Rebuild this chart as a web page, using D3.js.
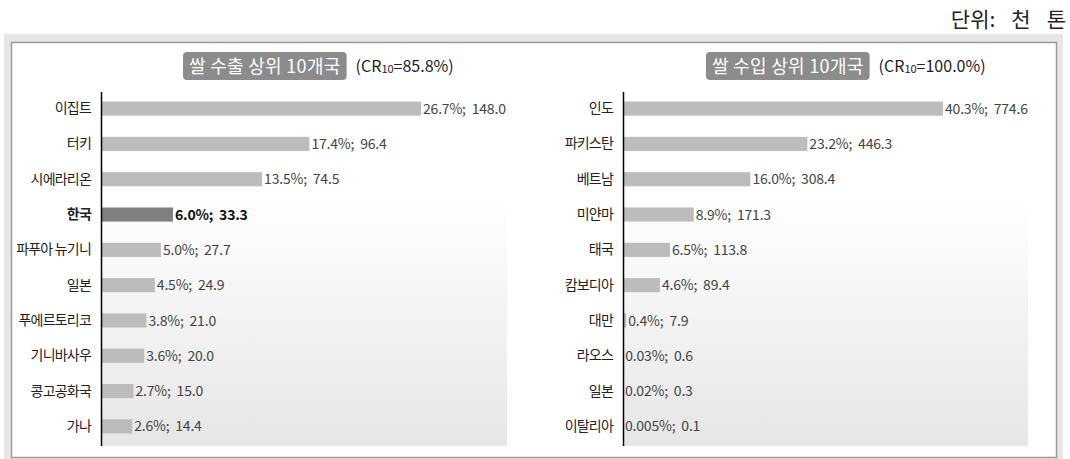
<!DOCTYPE html>
<html>
<head>
<meta charset="utf-8">
<script src="https://cdn.jsdelivr.net/npm/d3@7"></script>
<style>
  html, body { margin: 0; padding: 0; background: #fff; }
  svg { display: block; font-family: "Noto Sans CJK KR", "Noto Sans", sans-serif; }
</style>
</head>
<body>
<svg id="chart" width="1070" height="459"></svg>
<script>
// Rice exports: top 10 countries (thousand tonnes, share %)
const exportCountries = ["이집트", "터키", "시에라리온", "한국", "파푸아 뉴기니", "일본", "푸에르토리코", "기니바사우", "콩고공화국", "가나"];
const exportShares = [26.7, 17.4, 13.5, 6.0, 5.0, 4.5, 3.8, 3.6, 2.7, 2.6];
const exportValues = [148.0, 96.4, 74.5, 33.3, 27.7, 24.9, 21.0, 20.0, 15.0, 14.4];

// Rice imports: top 10 countries (thousand tonnes, share %)
const importCountries = ["인도", "파키스탄", "베트남", "미얀마", "태국", "캄보디아", "대만", "라오스", "일본", "이탈리아"];
const importShares = [40.3, 23.2, 16.0, 8.9, 6.5, 4.6, 0.4, 0.03, 0.02, 0.005];
const importValues = [774.6, 446.3, 308.4, 171.3, 113.8, 89.4, 7.9, 0.6, 0.3, 0.1];

const highlight = "한국";

const svg = d3.select("#chart");

// gradient used behind each bar area
const defs = svg.append("defs");
const grad = defs.append("linearGradient")
  .attr("id", "plotBg").attr("x1", 0).attr("y1", 0).attr("x2", 0).attr("y2", 1);
grad.append("stop").attr("offset", "0%").attr("stop-color", "#ffffff");
grad.append("stop").attr("offset", "30%").attr("stop-color", "#ffffff");
grad.append("stop").attr("offset", "60%").attr("stop-color", "#f4f4f4");
grad.append("stop").attr("offset", "100%").attr("stop-color", "#e6e6e6");

// frame
svg.append("rect").attr("x", 4).attr("y", 34).attr("width", 1059).attr("height", 430).attr("fill", "#e6e6e6");
svg.append("rect").attr("x", 11.5).attr("y", 42.5).attr("width", 1045).attr("height", 415)
  .attr("fill", "#fff").attr("stroke", "#9a9a9a").attr("stroke-width", 1.5);

// unit label
const unit = svg.append("text").attr("x", 1066).attr("y", 27).attr("text-anchor", "end")
  .attr("font-size", 21).attr("fill", "#222");
unit.append("tspan").text("단위:");
unit.append("tspan").attr("dx", 16).text("천");
unit.append("tspan").attr("dx", 16).text("톤");

function fmtShare(v) {
  return (v >= 0.1 ? v.toFixed(1) : String(v)) + "%";
}

function panel(opts) {
  const { left, right, top, bottom, countries, shares, values, title, cr, titleX } = opts;
  const g = svg.append("g");

  g.append("rect").attr("x", left).attr("y", top).attr("width", right - left).attr("height", bottom - top)
    .attr("fill", "url(#plotBg)");

  const x = d3.scaleLinear().domain([0, d3.max(values)]).range([left, left + 320]);
  const y = d3.scaleBand().domain(countries).range([top, bottom - 3]).paddingInner(0.6).paddingOuter(0.27);

  const data = countries.map((c, i) => ({ c, s: shares[i], v: values[i] }));

  g.selectAll("rect.bar").data(data).join("rect")
    .attr("class", "bar")
    .attr("x", x(0))
    .attr("y", d => y(d.c))
    .attr("width", d => x(d.v) - x(0))
    .attr("height", y.bandwidth())
    .attr("fill", d => d.c === highlight ? "#808080" : "#bcbcbc");

  g.selectAll("text.val").data(data).join("text")
    .attr("class", "val")
    .attr("x", d => x(d.v) + 2)
    .attr("y", d => y(d.c) + y.bandwidth() / 2)
    .attr("dy", "0.36em")
    .attr("font-size", 14)
    .attr("font-weight", d => d.c === highlight ? "bold" : "normal")
    .attr("fill", d => d.c === highlight ? "#111" : "#444")
    .attr("letter-spacing", -0.2)
    .attr("word-spacing", 3)
    .text(d => fmtShare(d.s) + "; " + d.v.toFixed(1));

  const axis = g.append("g").attr("transform", `translate(${left},0)`)
    .call(d3.axisLeft(y).tickSize(0).tickPadding(10));
  axis.select(".domain").remove();
  axis.selectAll("text")
    .attr("font-size", 14)
    .attr("font-family", "'Noto Sans CJK KR', sans-serif")
    .attr("fill", "#222")
    .attr("letter-spacing", -0.8)
    .attr("font-weight", d => d === highlight ? "bold" : "normal");

  g.append("line").attr("x1", left + 0.5).attr("x2", left + 0.5).attr("y1", top).attr("y2", bottom)
    .attr("stroke", "#000").attr("stroke-width", 1.5);

  // title badge
  const tg = g.append("g");
  const tt = tg.append("text").attr("x", titleX).attr("y", 72.5).attr("font-size", 18)
    .attr("letter-spacing", 0.3).attr("fill", "#fff").text(title);
  const bb = tt.node().getBBox();
  tg.insert("rect", "text").attr("x", bb.x - 6).attr("y", 52).attr("width", bb.width + 12).attr("height", 28)
    .attr("rx", 4).attr("fill", "#8c8c8c");
  const ct = tg.append("text").attr("x", bb.x + bb.width + 15).attr("y", 72).attr("font-size", 16).attr("fill", "#222");
  ct.append("tspan").text("(CR");
  ct.append("tspan").attr("font-size", 11).attr("dy", 1).text("10");
  ct.append("tspan").attr("dy", -1).text("=" + cr + ")");
}

panel({ left: 101, right: 507, top: 92, bottom: 446, countries: exportCountries, shares: exportShares,
        values: exportValues, title: "쌀 수출 상위 10개국", cr: "85.8%", titleX: 189 });
panel({ left: 623, right: 1028, top: 92, bottom: 446, countries: importCountries, shares: importShares,
        values: importValues, title: "쌀 수입 상위 10개국", cr: "100.0%", titleX: 712 });
</script>
</body>
</html>
